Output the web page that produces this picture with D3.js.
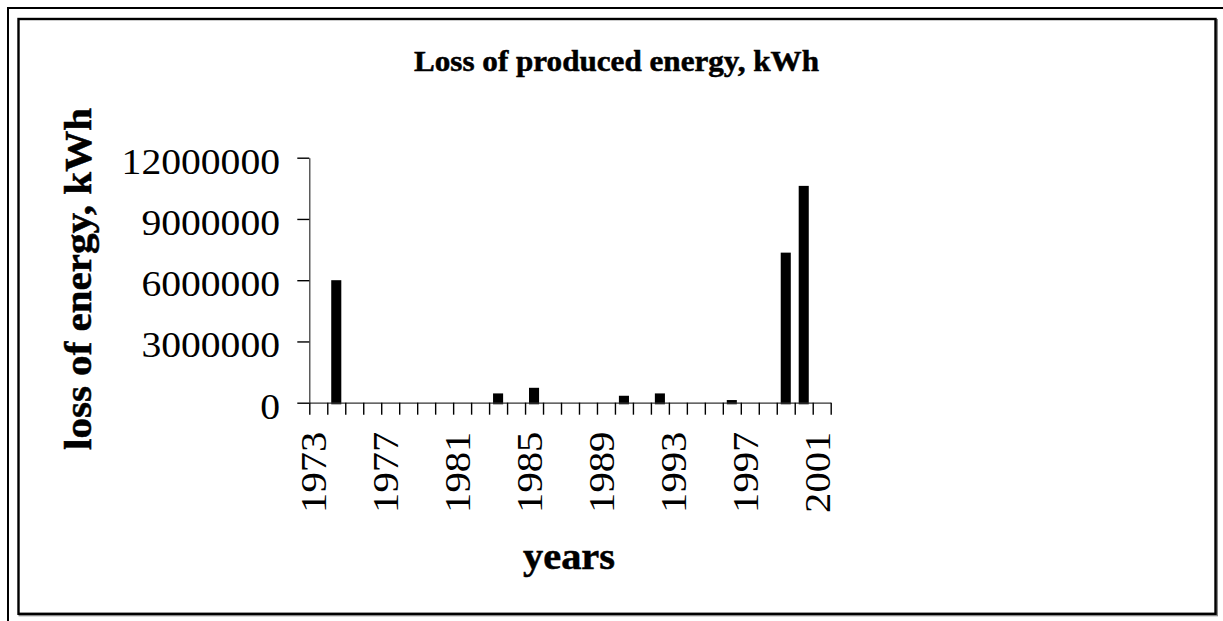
<!DOCTYPE html>
<html>
<head>
<meta charset="utf-8">
<script src="https://cdn.jsdelivr.net/npm/d3@7"></script>
<style>
  html, body { margin: 0; padding: 0; background: #fff; overflow: hidden; }
  svg { display: block; }
  text { font-family: "Liberation Serif", "Times New Roman", Times, serif; fill: #000; }
</style>
</head>
<body>
<svg id="chart" width="1223" height="621"></svg>
<script>
// ---- data ----
const years = d3.range(1973, 2002);            // categories 1973..2001
const lossYears = [1974, 1983, 1985, 1990, 1992, 1996, 1999, 2000];
const lossValues = [6000000, 455000, 730000, 340000, 455000, 130000, 7350000, 10620000];
const xTickLabels = [1973, 1977, 1981, 1985, 1989, 1993, 1997, 2001];
const yTickValues = [0, 3000000, 6000000, 9000000, 12000000];
const titleText = "Loss of produced energy, kWh";
const yTitleText = "loss of energy, kWh";
const xTitleText = "years";

const valueByYear = new Map(lossYears.map((y, i) => [y, lossValues[i]]));
const series = years.map(y => ({ year: y, value: valueByYear.get(y) || 0 }));

// ---- layout ----
const svg = d3.select("#chart");
const X0 = 309.3, X1 = 830.7, Y0 = 402.7, Y1 = 157.7;
const digitW = 19.8;

// frames
svg.append("rect").attr("x", 8).attr("y", 8).attr("width", 1240).attr("height", 640)
  .attr("fill", "none").attr("stroke", "#000").attr("stroke-width", 2);
// shadow of inner frame
svg.append("rect").attr("x", 19.5).attr("y", 20).attr("width", 1197.5).attr("height", 595.3)
  .attr("fill", "none").attr("stroke", "#888").attr("stroke-width", 2);
svg.append("rect").attr("x", 18.5).attr("y", 19).attr("width", 1197).attr("height", 594.8)
  .attr("fill", "#fff").attr("stroke", "#000").attr("stroke-width", 2.4);

// scales
const xBand = d3.scaleBand().domain(years).range([X0, X1]).paddingInner(0.44).paddingOuter(0.22);
const xEdge = d3.scaleLinear().domain([0, years.length]).range([X0, X1]);
const y = d3.scaleLinear().domain([0, 12000000]).range([Y0, Y1]);

// bars
svg.append("g").selectAll("rect").data(series.filter(d => d.value > 0)).join("rect")
  .attr("x", d => xBand(d.year))
  .attr("width", xBand.bandwidth())
  .attr("y", d => y(d.value))
  .attr("height", d => y(0) - y(d.value) + 1.6)
  .attr("fill", "#000");

// x axis: tick marks at category edges
const gxTicks = svg.append("g").attr("transform", `translate(0,${Y0})`)
  .call(d3.axisBottom(xEdge).tickValues(d3.range(years.length + 1)).tickSize(12).tickSizeOuter(0).tickFormat(""));
gxTicks.select(".domain").attr("stroke", "#333").attr("stroke-width", 1.2);
gxTicks.selectAll(".tick line").attr("stroke", "#000").attr("stroke-width", 1.4);

// x axis labels at category centres
const gxLab = svg.append("g").attr("transform", `translate(0,${Y0})`)
  .call(d3.axisBottom(xBand).tickValues(xTickLabels).tickSize(0).tickFormat(d => String(d)));
gxLab.select(".domain").remove();
gxLab.selectAll(".tick text")
  .attr("transform", "rotate(-90)")
  .attr("x", -29).attr("y", 8).attr("dy", 0)
  .attr("text-anchor", "end")
  .attr("font-size", 35)
  .attr("textLength", d => String(d).length * 20.3)
  .attr("lengthAdjust", "spacingAndGlyphs");

// y axis
const gy = svg.append("g").attr("transform", `translate(${X0},0)`)
  .call(d3.axisLeft(y).tickValues(yTickValues).tickSize(12).tickSizeOuter(0).tickPadding(17.3).tickFormat(d3.format("d")));
gy.select(".domain").attr("stroke", "#333").attr("stroke-width", 1.2);
gy.selectAll(".tick line").attr("stroke", "#000").attr("stroke-width", 1.4);
gy.selectAll(".tick text")
  .attr("font-size", 35)
  .attr("dy", "0.44em")
  .attr("textLength", d => d3.format("d")(d).length * digitW)
  .attr("lengthAdjust", "spacingAndGlyphs");

// titles
svg.append("text").attr("x", 616.5).attr("y", 71).attr("text-anchor", "middle")
  .attr("font-size", 29).attr("font-weight", "bold")
  .attr("stroke", "#000").attr("stroke-width", 0.5)
  .attr("textLength", 405).attr("lengthAdjust", "spacingAndGlyphs")
  .text(titleText);

svg.append("text").attr("transform", "translate(91,279) rotate(-90)")
  .attr("text-anchor", "middle")
  .attr("font-size", 38).attr("font-weight", "bold")
  .attr("stroke", "#000").attr("stroke-width", 0.5)
  .attr("textLength", 342).attr("lengthAdjust", "spacingAndGlyphs")
  .text(yTitleText);

svg.append("text").attr("x", 569).attr("y", 569).attr("text-anchor", "middle")
  .attr("font-size", 38).attr("font-weight", "bold")
  .attr("stroke", "#000").attr("stroke-width", 0.5)
  .attr("textLength", 92).attr("lengthAdjust", "spacingAndGlyphs")
  .text(xTitleText);
</script>
</body>
</html>
